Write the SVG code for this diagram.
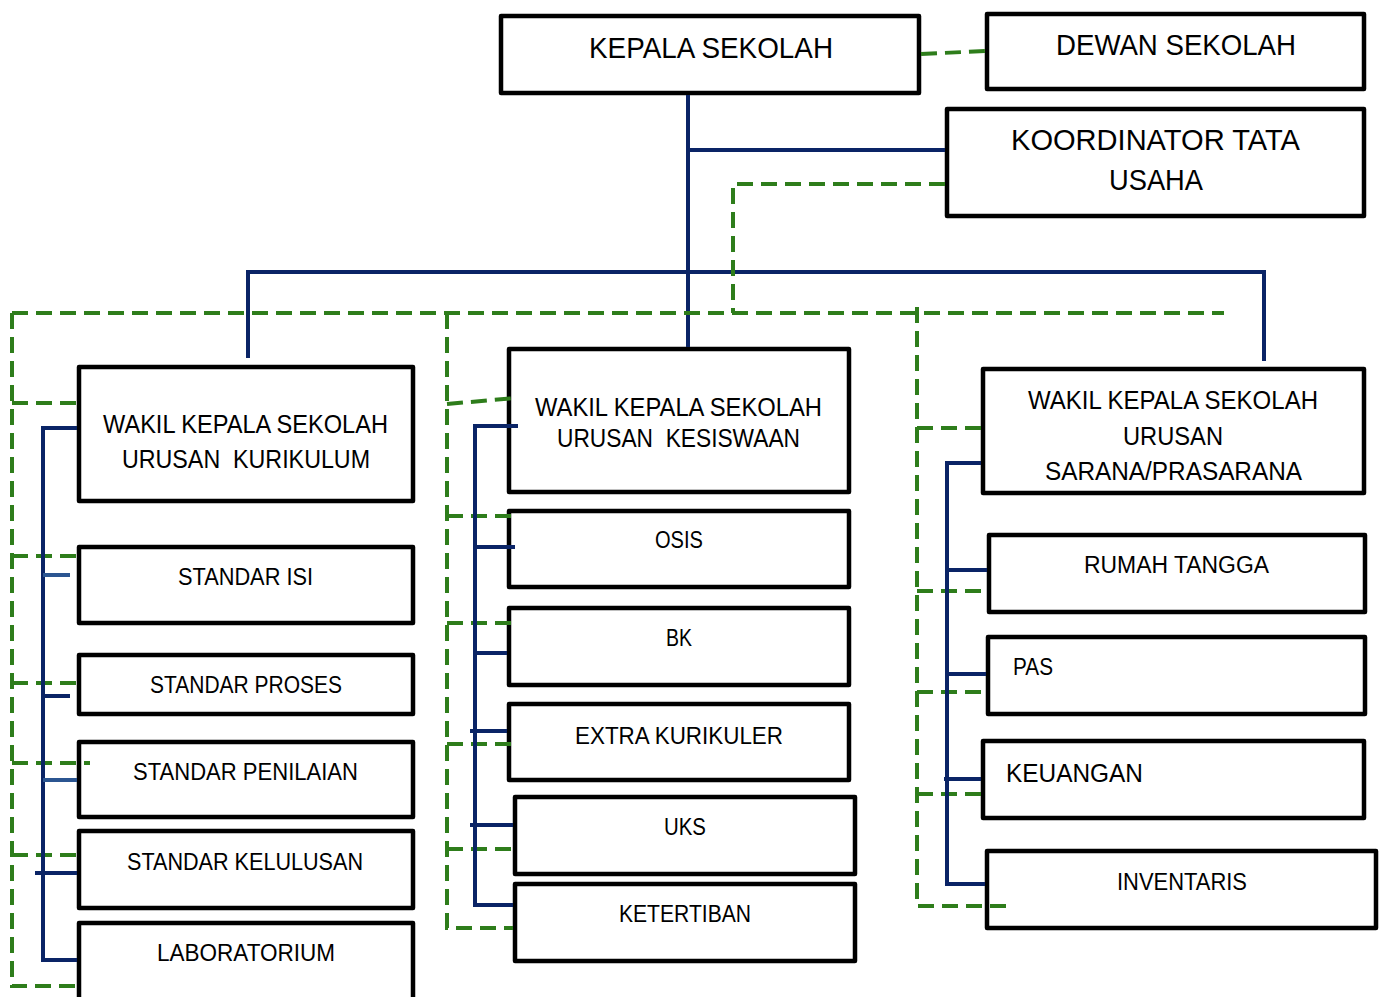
<svg xmlns="http://www.w3.org/2000/svg" width="1387" height="997" viewBox="0 0 1387 997">
<style>
.box{fill:#fff;stroke:#000;stroke-width:4.5;stroke-linejoin:round}
.t{font-family:"Liberation Sans",Arial,sans-serif;fill:#000}
.big{font-size:30px}
.mid{font-size:25px}
.sm{font-size:23px}
.nv{stroke:#0a2466;stroke-width:4;fill:none}
.nl{stroke:#2b5591;stroke-width:4;fill:none}
.gr{stroke:#2e7d1b;stroke-width:4;fill:none;stroke-dasharray:16 8}
</style>
<rect width="1387" height="997" fill="#fff"/>
<g id="kepala"><rect class="box" x="501" y="16" width="418" height="77"/><text class="t big" x="589" y="58" textLength="244" lengthAdjust="spacingAndGlyphs">KEPALA SEKOLAH</text></g>
<g id="dewan"><rect class="box" x="987" y="14" width="377" height="75"/><text class="t big" x="1056" y="55" textLength="240" lengthAdjust="spacingAndGlyphs">DEWAN SEKOLAH</text></g>
<g id="tu"><rect class="box" x="947" y="109" width="417" height="107"/><text class="t big" x="1011" y="150" textLength="289" lengthAdjust="spacingAndGlyphs">KOORDINATOR TATA</text><text class="t big" x="1109" y="190" textLength="94" lengthAdjust="spacingAndGlyphs">USAHA</text></g>
<g id="wk-kurikulum"><rect class="box" x="79" y="367" width="334" height="134"/><text class="t mid" x="103" y="433" textLength="285" lengthAdjust="spacingAndGlyphs">WAKIL KEPALA SEKOLAH</text><text class="t mid" x="122" y="468" textLength="248" lengthAdjust="spacingAndGlyphs">URUSAN&#160; KURIKULUM</text></g>
<g id="standar-isi"><rect class="box" x="79" y="547" width="334" height="76"/><text class="t sm" x="178" y="585" textLength="135" lengthAdjust="spacingAndGlyphs">STANDAR ISI</text></g>
<g id="standar-proses"><rect class="box" x="79" y="655" width="334" height="59"/><text class="t sm" x="150" y="693" textLength="192" lengthAdjust="spacingAndGlyphs">STANDAR PROSES</text></g>
<g id="standar-penilaian"><rect class="box" x="79" y="742" width="334" height="75"/><text class="t sm" x="133" y="780" textLength="225" lengthAdjust="spacingAndGlyphs">STANDAR PENILAIAN</text></g>
<g id="standar-kelulusan"><rect class="box" x="79" y="831" width="334" height="77"/><text class="t sm" x="127" y="870" textLength="236" lengthAdjust="spacingAndGlyphs">STANDAR KELULUSAN</text></g>
<g id="laboratorium"><rect class="box" x="79" y="923" width="334" height="80"/><text class="t sm" x="157" y="961" textLength="178" lengthAdjust="spacingAndGlyphs">LABORATORIUM</text></g>
<g id="wk-kesiswaan"><rect class="box" x="509" y="349" width="340" height="143"/><text class="t mid" x="535" y="416" textLength="287" lengthAdjust="spacingAndGlyphs">WAKIL KEPALA SEKOLAH</text><text class="t mid" x="557" y="447" textLength="243" lengthAdjust="spacingAndGlyphs">URUSAN&#160; KESISWAAN</text></g>
<g id="osis"><rect class="box" x="509" y="511" width="340" height="76"/><text class="t sm" x="655" y="548" textLength="48" lengthAdjust="spacingAndGlyphs">OSIS</text></g>
<g id="bk"><rect class="box" x="509" y="608" width="340" height="77"/><text class="t sm" x="666" y="646" textLength="26" lengthAdjust="spacingAndGlyphs">BK</text></g>
<g id="extra"><rect class="box" x="509" y="704" width="340" height="76"/><text class="t sm" x="575" y="744" textLength="208" lengthAdjust="spacingAndGlyphs">EXTRA KURIKULER</text></g>
<g id="uks"><rect class="box" x="515" y="797" width="340" height="77"/><text class="t sm" x="664" y="835" textLength="42" lengthAdjust="spacingAndGlyphs">UKS</text></g>
<g id="ketertiban"><rect class="box" x="515" y="884" width="340" height="77"/><text class="t sm" x="619" y="922" textLength="132" lengthAdjust="spacingAndGlyphs">KETERTIBAN</text></g>
<g id="wk-sarana"><rect class="box" x="983" y="369" width="381" height="124"/><text class="t mid" x="1028" y="409" textLength="290" lengthAdjust="spacingAndGlyphs">WAKIL KEPALA SEKOLAH</text><text class="t mid" x="1123" y="445" textLength="100" lengthAdjust="spacingAndGlyphs">URUSAN</text><text class="t mid" x="1045" y="480" textLength="257" lengthAdjust="spacingAndGlyphs">SARANA/PRASARANA</text></g>
<g id="rumah-tangga"><rect class="box" x="989" y="535" width="376" height="77"/><text class="t sm" x="1084" y="573" textLength="185" lengthAdjust="spacingAndGlyphs">RUMAH TANGGA</text></g>
<g id="pas"><rect class="box" x="988" y="637" width="377" height="77"/><text class="t sm" x="1013" y="675" textLength="40" lengthAdjust="spacingAndGlyphs">PAS</text></g>
<g id="keuangan"><rect class="box" x="983" y="741" width="381" height="77"/><text class="t mid" x="1006" y="782" textLength="137" lengthAdjust="spacingAndGlyphs">KEUANGAN</text></g>
<g id="inventaris"><rect class="box" x="987" y="851" width="389" height="77"/><text class="t sm" x="1117" y="890" textLength="130" lengthAdjust="spacingAndGlyphs">INVENTARIS</text></g>
<g id="connectors">
<path class="nv" d="M688 95V347M688 150H945M248 358V272H1264V361"/>
<path class="gr" d="M921 54L985 51M945 184H733V313M12 313H1224M917 307V906H1010"/>
<path class="gr" d="M12 313V986H77M12 403H77M12 556H77M12 683H77M12 763H90M12 855H77"/>
<path class="gr" d="M447 313V928H513M447 404L515 398M447 516H515M447 623H518M447 744H518M447 849H513"/>
<path class="gr" d="M917 428H981M917 591H987M917 692H986M917 794H981"/>
<path class="nv" d="M77 428H43V960H77M43 696H70M35 873H77"/>
<path class="nl" d="M43 575H70M43 780H77"/>
<path class="nv" d="M518 426H475V905H513M475 547H515M475 653H507M470 731H507M470 825H513"/>
<path class="nv" d="M981 463H947V884H985M947 570H987M947 674H986M944 779H981"/>
</g>
</svg>
